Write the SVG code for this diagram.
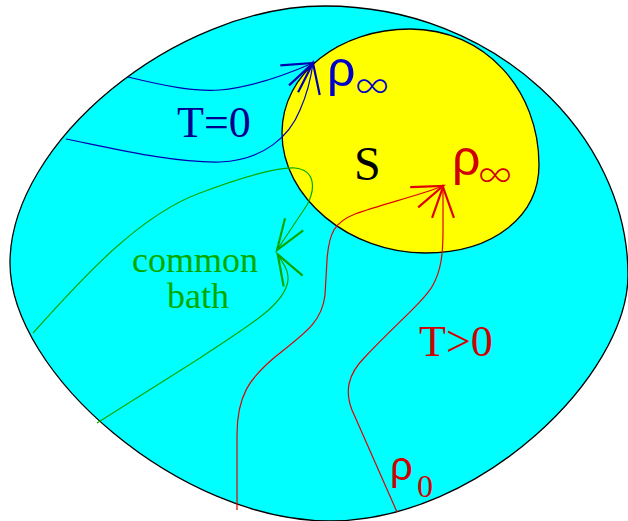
<svg xmlns="http://www.w3.org/2000/svg" width="628" height="521" viewBox="0 0 628 521">
<style>
.blob{stroke:#000;stroke-width:1.3}
.ln{fill:none;stroke-width:1.2}
.serif{font-family:"Liberation Serif","Times New Roman",serif}
.sans{font-family:"Liberation Sans",Arial,sans-serif}
.inf{font-family:Inter,"Noto Sans","Liberation Sans",sans-serif;font-weight:200}
.blue{fill:#0000c8}
.navy{fill:#00008f}
.red{fill:#d00000}
.green{fill:#00a800}
</style>
<defs>
<marker id="ab" markerUnits="userSpaceOnUse" markerWidth="40" markerHeight="40" viewBox="-20 -10 22 20" refX="0" refY="0" orient="auto" overflow="visible">
<path d="M-17,-6 L0,0 L-17,6" fill="none" stroke="#0000b0" stroke-width="1.2"/>
</marker>
<marker id="ag" markerUnits="userSpaceOnUse" markerWidth="40" markerHeight="40" viewBox="-20 -10 22 20" refX="0" refY="0" orient="auto" overflow="visible">
<path d="M-17,-6 L0,0 L-17,6" fill="none" stroke="#00a800" stroke-width="1.2"/>
</marker>
<marker id="ar" markerUnits="userSpaceOnUse" markerWidth="40" markerHeight="40" viewBox="-20 -10 22 20" refX="0" refY="0" orient="auto" overflow="visible">
<path d="M-17,-6 L0,0 L-17,6" fill="none" stroke="#e00000" stroke-width="1.2"/>
</marker>
</defs>
<g id="bath">
<path class="blob" fill="#00ffff" d="M325,6 C495,6 628,135 628,275 C628,375 480,521 330,521 C180,521 10,373 10,263 C10,143 175,6 325,6 Z"/>
</g>
<g id="system">
<path class="blob" fill="#ffff00" d="M410,29 C485,29 539,90 539,165 C539,215 495,253 425,253 C350,253 282,198 282,133 C282,73 340,29 410,29 Z"/>
<text class="serif" x="354" y="180" font-size="48" fill="#000">S</text>
</g>
<g id="connectors">
<path class="ln" stroke="#0000b0" marker-end="url(#ab)" d="M128,77 C165,86 195,92 220,90 C255,87 290,73 313,63"/>
<path class="ln" stroke="#0000b0" marker-end="url(#ab)" d="M66,139 C120,150 175,163 220,162 C265,160 290,135 300,110 C308,92 311,78 313,63"/>
<path class="ln" stroke="#00a800" marker-end="url(#ag)" d="M33,333 C85,275 140,215 200,193 C240,178 275,167 295,168 C315,170 316,188 307,205 L277,250"/>
<path class="ln" stroke="#00a800" marker-end="url(#ag)" d="M97,423 L200,358 C245,328 280,308 287,285 C291,272 283,263.5 277.7,254.3"/>
<path class="ln" stroke="#e00000" marker-end="url(#ar)" d="M237,510 L237,435 C237,395 250,378 275,357 C305,333 322,322 325,295 L327,260 C329,232 335,222 355,214 C380,205 420,195 443,186"/>
<path class="ln" stroke="#e00000" marker-end="url(#ar)" d="M397,512 L352,410 C345,392 347,375 365,357 C395,325 425,300 433,285 C441,270 443,255 443,230 L443,187"/>
</g>
<g id="labels">
<text class="serif navy" x="177" y="137" font-size="44">T=0</text>
<g id="rho-inf-blue"><text class="sans blue" x="327" y="86" font-size="50">ρ</text><text class="inf blue" x="355" y="98" font-size="38">∞</text></g>
<g id="rho-inf-red"><text class="sans red" x="452" y="175" font-size="50">ρ</text><text class="inf red" x="478" y="187" font-size="38">∞</text></g>
<text class="serif red" x="419" y="356" font-size="44">T&gt;0</text>
<g id="rho-0"><text class="sans red" x="390" y="480" font-size="40">ρ</text><text class="serif red" x="417" y="497" font-size="32">0</text></g>
<text class="serif green" font-size="36"><tspan x="132" y="272">common</tspan><tspan x="167" y="308">bath</tspan></text>
</g>
</svg>
